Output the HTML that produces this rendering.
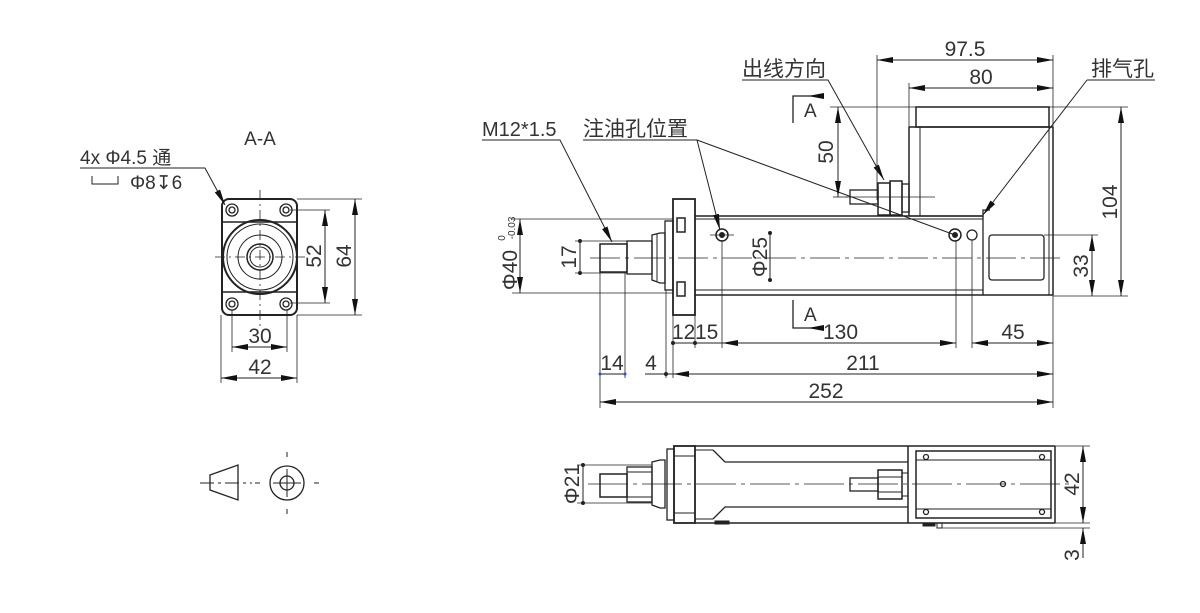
<!DOCTYPE html>
<html><head><meta charset="utf-8"><style>
html,body{margin:0;padding:0;background:#fff;}
svg{display:block;}
text{font-family:"Liberation Sans","Noto Sans CJK SC",sans-serif;fill:#333;}
</style></head><body>
<svg width="1200" height="613" viewBox="0 0 1200 613" xmlns="http://www.w3.org/2000/svg">
<defs>
<marker id="a" viewBox="0 0 16 6" refX="16" refY="3" markerWidth="16" markerHeight="6" markerUnits="userSpaceOnUse" orient="auto-start-reverse"><path d="M0,0 L16,3 L0,6 Z" fill="#111"/></marker>
</defs>
<g stroke="#222" stroke-width="1" fill="none">
<!-- ===== A-A view ===== -->
<rect x="222" y="199" width="75" height="116" rx="7" stroke-width="2"/>
<line x1="222" y1="222" x2="297" y2="222" stroke-width="1.5"/>
<line x1="222" y1="292" x2="297" y2="292" stroke-width="1.5"/>
<circle cx="260" cy="257" r="37" stroke-width="2"/>
<circle cx="260" cy="257" r="33"/>
<circle cx="260" cy="257" r="22"/>
<circle cx="260" cy="257" r="13" stroke-width="1.5"/>
<circle cx="260" cy="257" r="10"/>
<g stroke-width="1.3">
<circle cx="232" cy="210" r="6"/><circle cx="232" cy="210" r="3"/>
<circle cx="286" cy="210" r="6"/><circle cx="286" cy="210" r="3"/>
<circle cx="232" cy="304" r="6"/><circle cx="232" cy="304" r="3"/>
<circle cx="286" cy="304" r="6"/><circle cx="286" cy="304" r="3"/>
</g>
<line x1="260" y1="190" x2="260" y2="330" stroke-dasharray="10,4,2,4" stroke-width="0.8"/>
<line x1="215" y1="257" x2="305" y2="257" stroke-dasharray="10,4,2,4" stroke-width="0.8"/>
<polyline points="80,168 205,168 225,205" marker-end="url(#a)"/>
<polyline points="92,176 92,184 118,184 118,176"/>
<line x1="290" y1="210" x2="330" y2="210" stroke-width="0.8"/>
<line x1="290" y1="303" x2="330" y2="303" stroke-width="0.8"/>
<line x1="297" y1="199" x2="362" y2="199" stroke-width="0.8"/>
<line x1="297" y1="315" x2="362" y2="315" stroke-width="0.8"/>
<line x1="325" y1="210" x2="325" y2="303" marker-start="url(#a)" marker-end="url(#a)"/>
<line x1="355" y1="199" x2="355" y2="315" marker-start="url(#a)" marker-end="url(#a)"/>
<line x1="232" y1="310" x2="232" y2="352" stroke-width="0.8"/>
<line x1="287" y1="310" x2="287" y2="352" stroke-width="0.8"/>
<line x1="221" y1="315" x2="221" y2="383" stroke-width="0.8"/>
<line x1="297" y1="315" x2="297" y2="383" stroke-width="0.8"/>
<line x1="232" y1="347" x2="287" y2="347" marker-start="url(#a)" marker-end="url(#a)"/>
<line x1="221" y1="378" x2="297" y2="378" marker-start="url(#a)" marker-end="url(#a)"/>

<!-- ===== projection symbol ===== -->
<polygon points="210,475 238,465 238,500 210,490" stroke-width="1.3"/>
<line x1="200" y1="483" x2="252" y2="483" stroke-dasharray="14,4,3,4"/>
<line x1="255" y1="483" x2="260" y2="483"/>
<circle cx="287" cy="483" r="17" stroke-width="1.3"/>
<circle cx="287" cy="483" r="7" stroke-width="1.3"/>
<line x1="273" y1="483" x2="301" y2="483"/>
<line x1="287" y1="469" x2="287" y2="497"/>
<line x1="287" y1="452" x2="287" y2="457"/><line x1="287" y1="509" x2="287" y2="514"/>
<line x1="314" y1="483" x2="319" y2="483"/>

<!-- ===== main side view ===== -->
<rect x="600" y="244" width="27" height="28" stroke-width="1.5"/>
<rect x="627" y="241" width="25" height="33" stroke-width="1.3"/>
<path d="M652,235 L660,233 L665,233 L665,283 L660,283 L652,280 Z" stroke-width="1.3"/>
<line x1="657" y1="234" x2="657" y2="281"/>
<rect x="665" y="221" width="8" height="69" stroke-width="1.3"/>
<rect x="673" y="199" width="22" height="116" stroke-width="1.8"/>
<rect x="677" y="218" width="8" height="14" stroke-width="1.5"/>
<rect x="677" y="282" width="8" height="14" stroke-width="1.5"/>
<line x1="695" y1="216" x2="983" y2="216" stroke-width="1.5"/>
<line x1="695" y1="219" x2="983" y2="219"/>
<line x1="695" y1="290" x2="983" y2="290"/>
<line x1="695" y1="295" x2="1053" y2="295" stroke-width="1.5"/>
<line x1="983" y1="216" x2="983" y2="295" stroke-width="1.3"/>
<rect x="916" y="107" width="133" height="20" stroke-width="1.5"/>
<line x1="909" y1="127" x2="1053" y2="127" stroke-width="1.5"/>
<line x1="909" y1="127" x2="909" y2="216" stroke-width="1.5"/>
<line x1="920" y1="127" x2="920" y2="216"/>
<line x1="1049" y1="127" x2="1049" y2="295"/>
<line x1="1053" y1="127" x2="1053" y2="295" stroke-width="1.5"/>
<polyline points="909,216 983,216 983,210 990,210" stroke-width="1.3"/>
<rect x="989" y="235" width="55" height="45" rx="3" stroke-width="1.3"/>
<rect x="850" y="190" width="28" height="14" stroke-width="1.3"/>
<rect x="878" y="183" width="12" height="32" stroke-width="1.5"/>
<rect x="890" y="181" width="12" height="34" stroke-width="1.5"/>
<rect x="902" y="184" width="7" height="28" stroke-width="1.3"/>
<line x1="845" y1="197" x2="935" y2="197" stroke-width="0.8"/>
<circle cx="722" cy="235" r="6" stroke-width="1.5"/><circle cx="722" cy="235" r="2.5" fill="#222"/>
<circle cx="955" cy="235" r="6" stroke-width="1.5"/><circle cx="955" cy="235" r="2.5" fill="#222"/>
<circle cx="972" cy="235" r="5" stroke-width="1.3"/>
<line x1="710" y1="235" x2="734" y2="235" stroke-width="0.8"/>
<line x1="590" y1="258" x2="1062" y2="258" stroke-dasharray="30,5,4,5" stroke-width="0.8"/>
<line x1="770" y1="233" x2="770" y2="280" stroke-width="1"/>
<circle cx="770" cy="233" r="1.5" fill="#222"/><circle cx="770" cy="280" r="1.5" fill="#222"/>
<polyline points="482,140 560,140 612,242" marker-end="url(#a)"/>
<polyline points="583,140 697,140 720,230" marker-end="url(#a)"/>
<line x1="697" y1="140" x2="955" y2="235"/>
<polyline points="742,80 828,80 884,180" marker-end="url(#a)"/>
<polyline points="1087,80 1155,80"/>
<line x1="1087" y1="80" x2="983" y2="215" marker-end="url(#a)"/>
<polyline points="793,123 793,96 822,96" stroke-width="1.3"/>
<line x1="822" y1="96" x2="808" y2="96" marker-end="url(#a)"/>
<polyline points="793,300 793,328 822,328" stroke-width="1.3"/>
<line x1="822" y1="328" x2="808" y2="328" marker-end="url(#a)"/>
<line x1="512" y1="219" x2="673" y2="219" stroke-width="0.8"/>
<line x1="512" y1="293" x2="673" y2="293" stroke-width="0.8"/>
<line x1="520" y1="219" x2="520" y2="293" marker-start="url(#a)" marker-end="url(#a)"/>
<line x1="575" y1="241" x2="627" y2="241" stroke-width="0.8"/>
<line x1="575" y1="273" x2="627" y2="273" stroke-width="0.8"/>
<line x1="580" y1="241" x2="580" y2="273"/>
<circle cx="580" cy="241" r="1.5" fill="#222"/><circle cx="580" cy="273" r="1.5" fill="#222"/>
<line x1="830" y1="107" x2="1128" y2="107" stroke-width="0.8"/>
<line x1="833" y1="197" x2="848" y2="197" stroke-width="0.8"/>
<line x1="838" y1="107" x2="838" y2="197" marker-start="url(#a)" marker-end="url(#a)"/>
<line x1="1053" y1="296" x2="1128" y2="296" stroke-width="0.8"/>
<line x1="1121" y1="107" x2="1121" y2="296" marker-start="url(#a)" marker-end="url(#a)"/>
<line x1="1044" y1="235" x2="1098" y2="235" stroke-width="0.8"/>
<line x1="1092" y1="235" x2="1092" y2="296" marker-start="url(#a)" marker-end="url(#a)"/>
<line x1="877" y1="55" x2="877" y2="200" stroke-width="0.8"/>
<line x1="909" y1="83" x2="909" y2="127" stroke-width="0.8"/>
<line x1="1053" y1="55" x2="1053" y2="127" stroke-width="0.8"/>
<line x1="877" y1="60" x2="1053" y2="60" marker-start="url(#a)" marker-end="url(#a)"/>
<line x1="909" y1="88" x2="1053" y2="88" marker-start="url(#a)" marker-end="url(#a)"/>
<line x1="600" y1="272" x2="600" y2="408" stroke-width="0.8"/>
<line x1="625" y1="272" x2="625" y2="378" stroke-width="0.8"/>
<line x1="666" y1="290" x2="666" y2="378" stroke-width="0.8"/>
<line x1="673" y1="315" x2="673" y2="378" stroke-width="0.8"/>
<line x1="695" y1="315" x2="695" y2="348" stroke-width="0.8"/>
<line x1="722" y1="240" x2="722" y2="348" stroke-width="0.8"/>
<line x1="956" y1="240" x2="956" y2="348" stroke-width="0.8"/>
<line x1="972" y1="240" x2="972" y2="348" stroke-width="0.8"/>
<line x1="1053" y1="295" x2="1053" y2="408" stroke-width="0.8"/>
<line x1="673" y1="343" x2="722" y2="343"/>
<circle cx="673" cy="343" r="1.5" fill="#222"/><circle cx="695" cy="343" r="1.5" fill="#222"/>
<line x1="722" y1="343" x2="956" y2="343" marker-start="url(#a)" marker-end="url(#a)"/>
<line x1="972" y1="343" x2="1053" y2="343" marker-start="url(#a)" marker-end="url(#a)"/>
<line x1="600" y1="374" x2="625" y2="374"/>
<circle cx="600" cy="374" r="1.5" fill="#2255cc" stroke="none"/><circle cx="625" cy="374" r="1.5" fill="#2255cc" stroke="none"/>
<line x1="645" y1="374" x2="673" y2="374"/>
<circle cx="666" cy="374" r="1.5" fill="#222"/>
<line x1="673" y1="374" x2="1053" y2="374" marker-start="url(#a)" marker-end="url(#a)"/>
<line x1="600" y1="402" x2="1053" y2="402" marker-start="url(#a)" marker-end="url(#a)"/>

<!-- ===== bottom view ===== -->
<rect x="600" y="474" width="27" height="23" stroke-width="1.5"/>
<rect x="627" y="467" width="25" height="35" stroke-width="1.3"/>
<line x1="627" y1="472" x2="652" y2="472"/><line x1="627" y1="497" x2="652" y2="497"/>
<path d="M652,462 L660,460 L665,460 L665,508 L660,508 L652,505 Z" stroke-width="1.3"/>
<rect x="667" y="449" width="7" height="71" stroke-width="1.3"/>
<rect x="674" y="446" width="21" height="77" stroke-width="1.8"/>
<line x1="674" y1="456" x2="695" y2="456"/><line x1="674" y1="513" x2="695" y2="513"/>
<line x1="695" y1="446" x2="1055" y2="446" stroke-width="1.5"/>
<line x1="695" y1="523" x2="1055" y2="523" stroke-width="1.5"/>
<line x1="695" y1="450" x2="713" y2="450"/>
<polyline points="713,450 725,462 908,462" stroke-width="1.3"/>
<polyline points="713,519 725,507 908,507" stroke-width="1.3"/>
<line x1="695" y1="519" x2="713" y2="519"/>
<rect x="715" y="521" width="14" height="3" fill="#222"/>
<line x1="908" y1="446" x2="908" y2="523" stroke-width="1.5"/>
<line x1="1055" y1="446" x2="1055" y2="523" stroke-width="1.5"/>
<rect x="916" y="451" width="135" height="67" stroke-width="1.5"/>
<line x1="916" y1="460" x2="1051" y2="460"/><line x1="916" y1="509" x2="1051" y2="509"/>
<circle cx="926" cy="457" r="2.5" stroke-width="1.3"/><circle cx="1042" cy="457" r="2.5" stroke-width="1.3"/>
<circle cx="926" cy="512" r="2.5" stroke-width="1.3"/><circle cx="1042" cy="512" r="2.5" stroke-width="1.3"/>
<circle cx="1003" cy="484" r="2.5" stroke-width="1.3"/>
<rect x="850" y="478" width="28" height="13" stroke-width="1.3"/>
<rect x="878" y="470" width="24" height="29" stroke-width="1.5"/>
<line x1="878" y1="477" x2="902" y2="477"/><line x1="878" y1="492" x2="902" y2="492"/>
<rect x="902" y="473" width="6" height="23"/>
<rect x="923" y="523" width="12" height="3" fill="#222"/>
<rect x="937" y="523" width="5" height="5"/>
<line x1="588" y1="484" x2="1072" y2="484" stroke-dasharray="40,5,4,5" stroke-width="0.8"/>
<line x1="577" y1="465" x2="652" y2="465" stroke-width="0.8"/>
<line x1="577" y1="503" x2="652" y2="503" stroke-width="0.8"/>
<line x1="583" y1="465" x2="583" y2="503"/>
<circle cx="583" cy="465" r="1.5" fill="#222"/><circle cx="583" cy="503" r="1.5" fill="#222"/>
<line x1="1055" y1="446" x2="1090" y2="446" stroke-width="0.8"/>
<line x1="1055" y1="523" x2="1090" y2="523" stroke-width="0.8"/>
<line x1="940" y1="528" x2="1090" y2="528" stroke-width="0.8"/>
<line x1="1083" y1="446" x2="1083" y2="523" marker-start="url(#a)" marker-end="url(#a)"/>
<line x1="1083" y1="528" x2="1083" y2="558" marker-start="url(#a)"/>
</g>

<!-- ===== text ===== -->
<text x="260" y="145" font-size="19" text-anchor="middle">A-A</text>
<text x="80" y="164" font-size="19">4x  Φ4.5 通</text>
<text x="130" y="189" font-size="19">Φ8↧6</text>
<text x="0" y="0" font-size="21" transform="translate(321,256) rotate(-90)" text-anchor="middle">52</text>
<text x="0" y="0" font-size="21" transform="translate(351,256) rotate(-90)" text-anchor="middle">64</text>
<text x="260" y="343" font-size="21" text-anchor="middle">30</text>
<text x="260" y="374" font-size="21" text-anchor="middle">42</text>

<text x="482" y="136" font-size="20">M12*1.5</text>
<text x="583" y="136" font-size="21">注油孔位置</text>
<text x="742" y="76" font-size="21">出线方向</text>
<text x="1091" y="76" font-size="21">排气孔</text>
<text x="965" y="56" font-size="21" text-anchor="middle">97.5</text>
<text x="981" y="84" font-size="21" text-anchor="middle">80</text>
<text x="804" y="117" font-size="19">A</text>
<text x="804" y="321" font-size="19">A</text>
<text x="0" y="0" font-size="21" transform="translate(833,152) rotate(-90)" text-anchor="middle">50</text>
<text x="0" y="0" font-size="21" transform="translate(1117,202) rotate(-90)" text-anchor="middle">104</text>
<text x="0" y="0" font-size="21" transform="translate(1088,266) rotate(-90)" text-anchor="middle">33</text>
<text x="0" y="0" font-size="21" transform="translate(767,257) rotate(-90)" text-anchor="middle">Φ25</text>
<text x="0" y="0" font-size="21" transform="translate(517,270) rotate(-90)" text-anchor="middle">Φ40</text>
<text x="0" y="0" font-size="10" transform="translate(505,238) rotate(-90)" text-anchor="middle">0</text>
<text x="0" y="0" font-size="10" transform="translate(515,228) rotate(-90)" text-anchor="middle">-0.03</text>
<text x="0" y="0" font-size="21" transform="translate(576,257) rotate(-90)" text-anchor="middle">17</text>
<text x="672" y="339" font-size="21">12</text>
<text x="695" y="339" font-size="21">15</text>
<text x="823" y="339" font-size="21">130</text>
<text x="1013" y="339" font-size="21" text-anchor="middle">45</text>
<text x="612" y="370" font-size="21" text-anchor="middle">14</text>
<text x="651" y="370" font-size="21" text-anchor="middle">4</text>
<text x="863" y="370" font-size="21" text-anchor="middle">211</text>
<text x="826" y="398" font-size="21" text-anchor="middle">252</text>
<text x="0" y="0" font-size="21" transform="translate(579,484) rotate(-90)" text-anchor="middle">Φ21</text>
<text x="0" y="0" font-size="21" transform="translate(1079,484) rotate(-90)" text-anchor="middle">42</text>
<text x="0" y="0" font-size="21" transform="translate(1079,555) rotate(-90)" text-anchor="middle">3</text>
</svg>
</body></html>
